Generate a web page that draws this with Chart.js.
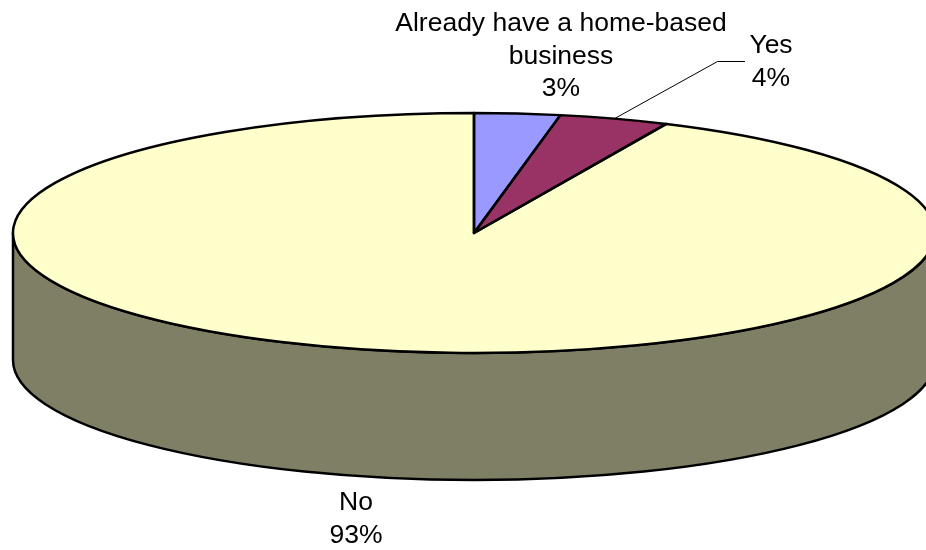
<!DOCTYPE html>
<html>
<head>
<meta charset="utf-8">
<title>Home-based business</title>
<script src="https://cdn.jsdelivr.net/npm/chart.js@4"></script>
<style>
  html, body { margin: 0; padding: 0; background: #fff; overflow: hidden; }
  #wrap { width: 926px; height: 550px; }
</style>
</head>
<body>
<div id="wrap"><canvas id="pie-chart" width="926" height="550"></canvas></div>
<script>
  'use strict';

  const categories = ['Already have a home-based business', 'Yes', 'No'];
  const values = [3, 3.85, 93.15];
  const percentLabels = ['3%', '4%', '93%'];
  const sliceColors = ['#9999FF', '#993366', '#FFFFCC'];
  const wallColors = ['#4D4D80', '#4D1A33', '#7F7F66'];

  // where the flat disc ends up on the page
  const disc = { x: 474, y: 233, rx: 461, ry: 120, depth: 127 };

  // label lines and their centres; the first one is wrapped by hand
  const labelLines = [['Already have a home-based', 'business'], ['Yes'], ['No']];
  const labelPos = [{ x: 561, y: 23.5 }, { x: 771, y: 45.5 }, { x: 356, y: 502.5 }];
  const lineGap = 32.8;

  function discPoint(angle, drop) {
    return {
      x: disc.x + disc.rx * Math.cos(angle),
      y: disc.y + disc.ry * Math.sin(angle) + (drop || 0)
    };
  }

  const pie3d = {
    id: 'pie3d',
    beforeDatasetsDraw(chart) {
      const ctx = chart.ctx;
      const arcs = chart.getDatasetMeta(0).data;

      // side wall, only the part of a slice that faces the viewer
      arcs.forEach((arc, i) => {
        const from = Math.max(arc.startAngle, 0);
        const to = Math.min(arc.endAngle, Math.PI);
        if (to <= from) return;
        ctx.save();
        ctx.beginPath();
        ctx.ellipse(disc.x, disc.y, disc.rx, disc.ry, 0, from, to);
        ctx.ellipse(disc.x, disc.y + disc.depth, disc.rx, disc.ry, 0, to, from, true);
        ctx.closePath();
        ctx.fillStyle = wallColors[i];
        ctx.fill();
        ctx.lineWidth = 2.5;
        ctx.strokeStyle = '#000';
        ctx.lineJoin = 'round';
        ctx.stroke();
        ctx.restore();
      });

      // squash the round pie into the ellipse while the library draws it
      const first = arcs[0];
      ctx.save();
      ctx.translate(disc.x, disc.y);
      ctx.scale(disc.rx / first.outerRadius, disc.ry / first.outerRadius);
      ctx.translate(-first.x, -first.y);
    },
    afterDatasetsDraw(chart) {
      const ctx = chart.ctx;
      ctx.restore();
      const arcs = chart.getDatasetMeta(0).data;

      // outlines go here so the line width is not squashed too
      ctx.save();
      ctx.lineWidth = 2.5;
      ctx.strokeStyle = '#000';
      ctx.lineJoin = 'round';
      arcs.forEach(arc => {
        ctx.beginPath();
        ctx.moveTo(disc.x, disc.y);
        ctx.ellipse(disc.x, disc.y, disc.rx, disc.ry, 0, arc.startAngle, arc.endAngle);
        ctx.closePath();
        ctx.stroke();
      });
      ctx.restore();

      // leader line for Yes
      const yes = arcs[1];
      const tip = discPoint((yes.startAngle + yes.endAngle) / 2);
      ctx.save();
      ctx.lineWidth = 1;
      ctx.strokeStyle = '#000';
      ctx.beginPath();
      ctx.moveTo(tip.x, tip.y);
      ctx.lineTo(717.5, 61.5);
      ctx.lineTo(745, 61.5);
      ctx.stroke();
      ctx.restore();

      // labels
      ctx.save();
      ctx.font = '26.5px "Liberation Sans", Arial, sans-serif';
      ctx.fillStyle = '#000';
      ctx.textAlign = 'center';
      ctx.textBaseline = 'middle';
      categories.forEach((c, i) => {
        const lines = labelLines[i].concat(percentLabels[i]);
        lines.forEach((t, j) => {
          ctx.fillText(t, labelPos[i].x, labelPos[i].y + j * lineGap);
        });
      });
      ctx.restore();
    }
  };

  new Chart(document.getElementById('pie-chart'), {
    type: 'pie',
    data: {
      labels: categories,
      datasets: [{
        data: values,
        backgroundColor: sliceColors,
        borderWidth: 0
      }]
    },
    options: {
      responsive: false,
      animation: false,
      layout: { padding: 0 },
      plugins: {
        legend: { display: false },
        tooltip: { enabled: false }
      }
    },
    plugins: [pie3d]
  });
</script>
</body>
</html>
